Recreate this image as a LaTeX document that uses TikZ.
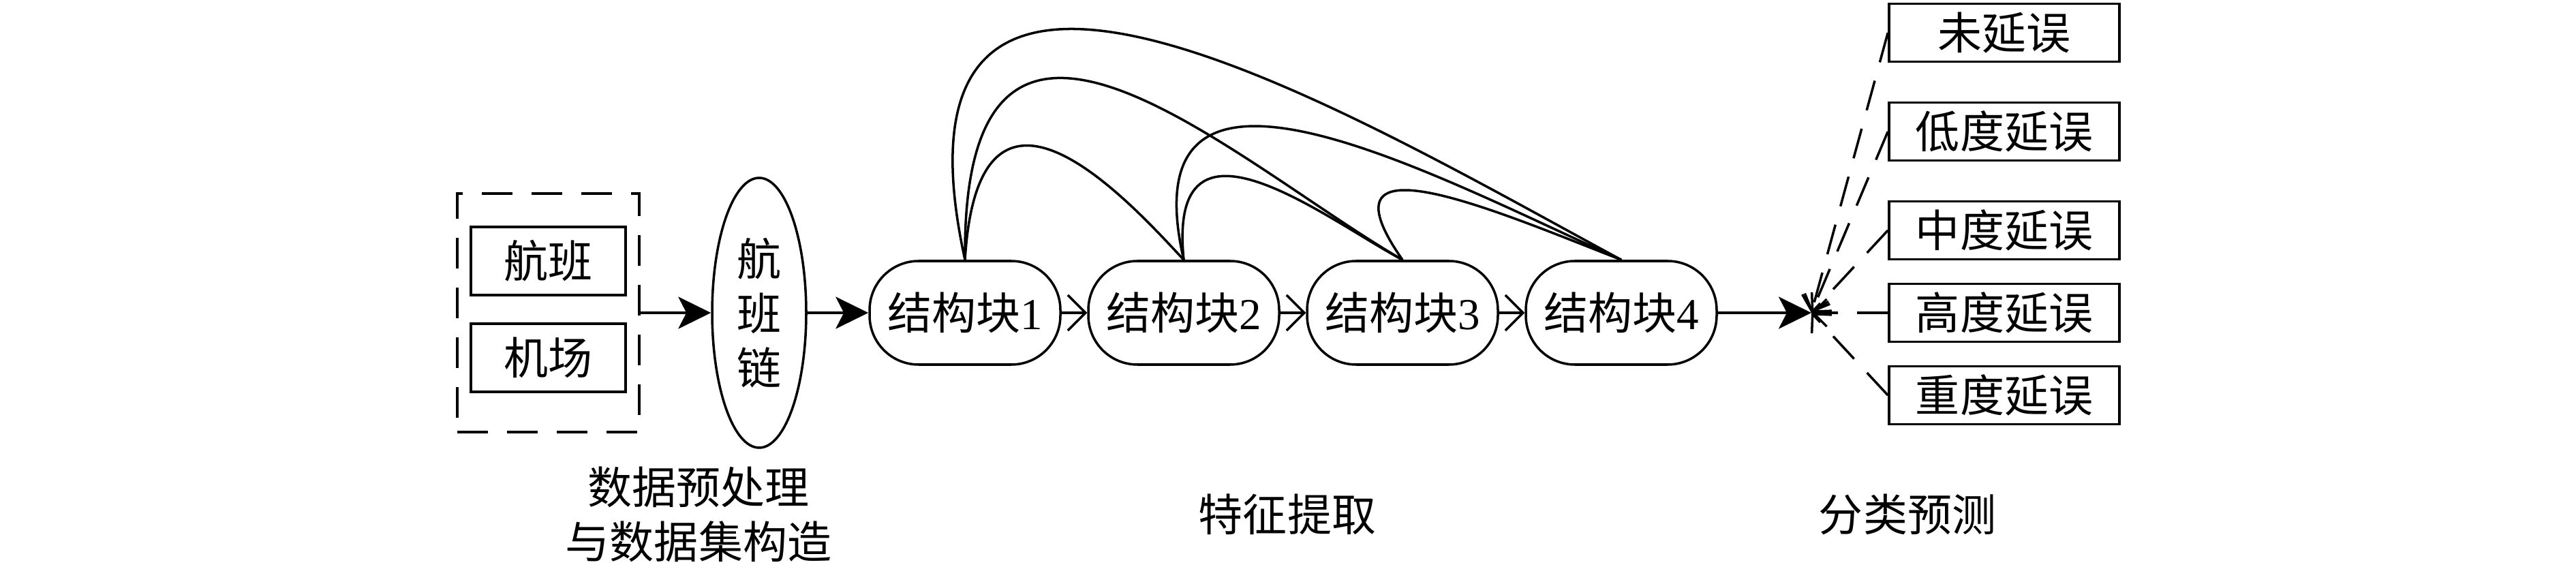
\documentclass[tikz,border=0pt]{standalone}
\usepackage{fontspec}
\setmainfont{Liberation Serif}
\newfontfamily\cjk{Noto Sans CJK SC}
\usetikzlibrary{arrows.meta,shapes.geometric}
\tikzset{
  txt/.style={font=\cjk\fontsize{18.5}{22.7}\selectfont},
  box/.style={txt,draw,minimum width=2.27cm,minimum height=1cm,inner sep=0pt},
  block/.style={txt,draw,rounded corners=0.72cm,minimum width=2.8cm,minimum height=1.52cm,inner sep=0pt},
  cls/.style={box,minimum width=3.38cm,minimum height=0.85cm},
  dashline/.style={dash pattern=on 0.45cm off 0.28cm},
  bigtip/.style={-{Stealth[length=0.48cm,width=0.47cm,inset=0.12cm]}},
  opentip/.style={-{Straight Barb[length=0.26cm,width=0.52cm]}}
}
\begin{document}
\begin{tikzpicture}[line width=1pt]
      \useasboundingbox (0,0) rectangle (37.8,8.31);
      \node[draw,dashline,minimum width=2.67cm,minimum height=3.5cm] (data) at (8.045,3.72) {};
      \node[box] (flight) at (8.045,4.48) {航班};
      \node[box] (airport) at (8.045,3.06) {机场};
      \node[txt,draw,ellipse,minimum width=1.38cm,minimum height=3.96cm,inner sep=0pt,align=center] (chain) at (11.14,3.72) {航\\班\\链};
      \node[block] (b1) at (14.16,3.72) {结构块{\rmfamily 1}};
      \node[block] (b2) at (17.37,3.72) {结构块{\rmfamily 2}};
      \node[block] (b3) at (20.58,3.72) {结构块{\rmfamily 3}};
      \node[block] (b4) at (23.79,3.72) {结构块{\rmfamily 4}};
      \coordinate (out) at (26.58,3.72);
      \node[cls] (c1) at (29.41,7.83) {未延误};
      \node[cls] (c2) at (29.41,6.38) {低度延误};
      \node[cls] (c3) at (29.41,4.93) {中度延误};
      \node[cls] (c4) at (29.41,3.72) {高度延误};
      \node[cls] (c5) at (29.41,2.51) {重度延误};
      \node[txt,align=center] (l1) at (10.25,0.76) {数据预处理\\与数据集构造};
      \node[txt] (l2) at (18.89,0.76) {特征提取};
      \node[txt] (l3) at (27.99,0.76) {分类预测};
      \begin{scope}[bigtip]
        \draw (data) to (chain);
        \draw (chain) to (b1);
        \draw (b4) to (out);
      \end{scope}
      \begin{scope}[opentip]
        \draw (b1) to (b2);
        \draw (b2) to (b3);
        \draw (b3) to (b4);
      \end{scope}
      \begin{scope}[-]
        \draw (b1.north) .. controls +(0.2,3.3) and +(-0.8,0.86) .. (b2.north);
        \draw (b1.north) .. controls +(-0.05,5.2) and +(-2.5,1.45) .. (b3.north);
        \draw (b1.north) .. controls +(-1.4,6.4) and +(-4,2.16) .. (b4.north);
        \draw (b2.north) .. controls +(-0.25,2.45) and +(-1.1,0.58) .. (b3.north);
        \draw (b2.north) .. controls +(-0.85,3.7) and +(-2.8,1.26) .. (b4.north);
        \draw (b3.north) .. controls +(-1.33,1.9) and +(-1.8,0.7) .. (b4.north);
      \end{scope}
      \begin{scope}[dashline,-{Straight Barb[length=0.2cm,width=0.4cm]}]
        \draw (c1.west) to (out);
        \draw (c2.west) to (out);
        \draw (c3.west) to (out);
        \draw (c4.west) to (out);
        \draw (c5.west) to (out);
      \end{scope}
    \end{tikzpicture}
\end{document}
